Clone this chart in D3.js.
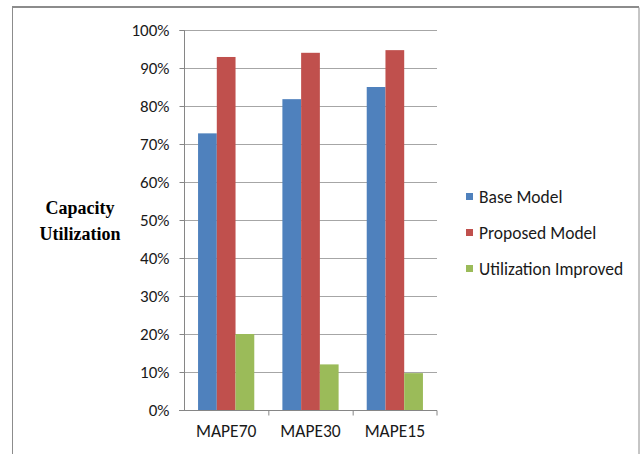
<!DOCTYPE html>
<html><head><meta charset="utf-8">
<script src="https://cdn.jsdelivr.net/npm/d3@7"></script>
<style>body{margin:0;background:#fff}svg{display:block}</style>
</head><body>
<script>
const categories = ["MAPE70", "MAPE30", "MAPE15"];
const seriesNames = ["Base Model", "Proposed Model", "Utilization Improved"];
const baseModel = [0.728, 0.818, 0.850];
const proposedModel = [0.929, 0.940, 0.947];
const utilizationImproved = [0.200, 0.120, 0.097];
const yTicks = [0, 0.1, 0.2, 0.3, 0.4, 0.5, 0.6, 0.7, 0.8, 0.9, 1.0];
const colors = ["#4f81bd", "#c0504d", "#9bbb59"];

const series = [baseModel, proposedModel, utilizationImproved];
const W = 640, H = 454;
const svg = d3.select("body").append("svg").attr("width", W).attr("height", H);
const font = "Carlito, Lato, 'Open Sans', sans-serif";

// outer border
svg.append("path").attr("d", "M12.5,454 V7.5 H639 V454").attr("fill", "none")
  .attr("stroke", "#8c8c8c").attr("stroke-width", 1);
svg.append("line").attr("x1", 12).attr("x2", 639).attr("y1", 7).attr("y2", 7)
  .attr("stroke", "#8c8c8c").attr("stroke-width", 2);

const x0 = 184, x1 = 437, yTop = 30, yBot = 410;
const x = d3.scaleBand().domain(categories).range([x0, x1]).paddingInner(0).paddingOuter(0);
const xs = d3.scaleBand().domain(d3.range(3)).range([0, x.bandwidth() * 2 / 3]);
const y = d3.scaleLinear().domain([0, 1]).range([yBot, yTop]);

// gridlines
svg.append("g").selectAll("line").data(yTicks.filter(d => d > 0)).join("line")
  .attr("x1", x0).attr("x2", x1)
  .attr("y1", d => Math.round(y(d)) + 0.5).attr("y2", d => Math.round(y(d)) + 0.5)
  .attr("stroke", "#a6a6a6").attr("stroke-width", 1);

// bars
categories.forEach((c, i) => {
  series.forEach((s, j) => {
    svg.append("rect")
      .attr("x", x(c) + x.bandwidth() / 6 + xs(j))
      .attr("y", y(s[i]))
      .attr("width", xs.bandwidth())
      .attr("height", yBot - y(s[i]))
      .attr("fill", colors[j]);
  });
});

// y axis
const yAxis = d3.axisLeft(y).tickValues(yTicks).tickFormat(d3.format(".0%")).tickSize(5).tickPadding(10);
const gy = svg.append("g").attr("transform", `translate(${x0 + 0.5},0)`).call(yAxis);
gy.select(".domain").attr("stroke", "#868686").attr("d", `M-5,${yTop + 0.5}H0V${yBot + 0.5}H-5`);
gy.selectAll(".tick line").attr("stroke", "#868686");
gy.selectAll("text").attr("font-family", font).attr("font-size", 17).attr("fill", "#1a1a1a");

// x axis
const xAxis = d3.axisBottom(x).tickSize(0).tickPadding(14);
const gx = svg.append("g").attr("transform", `translate(0,${yBot + 0.5})`).call(xAxis);
gx.select(".domain").attr("stroke", "#868686").attr("d", `M${x0 - 5},0H${x1}V5`);
gx.selectAll("text").attr("font-family", font).attr("font-size", 17.5).attr("fill", "#1a1a1a");
gx.append("g").selectAll("line").data(categories.slice(1)).join("line")
  .attr("x1", d => x(d) + 0.5).attr("x2", d => x(d) + 0.5).attr("y1", 0).attr("y2", 5)
  .attr("stroke", "#868686");

// y title
const yt = svg.append("text").attr("text-anchor", "middle").attr("font-family", "'Liberation Serif', 'Times New Roman', serif")
  .attr("font-weight", "bold").attr("font-size", 18).attr("fill", "#000");
yt.append("tspan").attr("x", 80).attr("y", 214).text("Capacity");
yt.append("tspan").attr("x", 80).attr("y", 240).text("Utilization");

// legend
const lg = svg.append("g");
seriesNames.forEach((n, j) => {
  const cy = 197 + j * 36;
  lg.append("rect").attr("x", 466).attr("y", cy - 4).attr("width", 7).attr("height", 7).attr("fill", colors[j]);
  lg.append("text").attr("x", 479).attr("y", cy + 6).attr("font-family", font).attr("font-size", 17.5)
    .attr("fill", "#1a1a1a").text(n);
});
</script>
</body></html>
